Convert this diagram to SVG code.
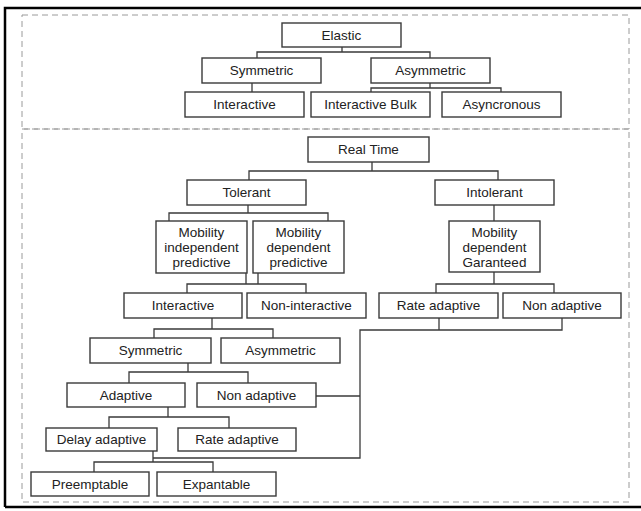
<svg xmlns="http://www.w3.org/2000/svg" width="641" height="511" viewBox="0 0 641 511">
<style>
.n rect{fill:#fff;stroke:#3a3a3a;stroke-width:1.4}
.n text{font-family:"Liberation Sans",Arial,sans-serif;font-size:13.5px;fill:#222;text-anchor:middle}
.c path{fill:none;stroke:#3a3a3a;stroke-width:1.3}
.d{fill:none;stroke:#9a9a9a;stroke-width:1;stroke-dasharray:6,4}
</style>
<rect width="641" height="511" fill="#fff"/>
<path d="M5,507 V8 H641 M5,507 H641" fill="none" stroke="#000" stroke-width="2.5"/>
<rect class="d" x="22" y="15" width="607" height="114"/>
<rect class="d" x="22" y="129" width="607" height="373"/>
<g class="c" id="connectors">
<path d="M342,47 V52 M257,58 V52 H430 V58"/>
<path d="M252,83 V92"/>
<path d="M430,83 V88 M371,92 V88 H501 V92"/>
<path d="M372,162 V171 M249,180 V171 H498 V180"/>
<path d="M248,205 V213 M169,221 V213 H328 V221"/>
<path d="M494,205 V221"/>
<path d="M246,273 V284 M258,273 V284 M187,293 V284 H306 V293"/>
<path d="M494,272 V284 M436,293 V284 H554 V293"/>
<path d="M439,318 V330 M562,318 V330 H360 V458 H153"/>
<path d="M316,396 H360"/>
<path d="M212,318 V329 M154,338 V329 H273 V338"/>
<path d="M188,363 V372 M129,383 V372 H248 V383"/>
<path d="M168,407 V417 M109,428 V417 H229 V428"/>
<path d="M153,451 V462 M94,472 V462 H213 V472"/>
</g>
<g class="n" id="elastic"><rect x="282" y="23" width="119" height="24"/><text x="341.5" y="39.5">Elastic</text></g>
<g class="n" id="symmetric1"><rect x="202" y="58" width="119" height="25"/><text x="261.5" y="75">Symmetric</text></g>
<g class="n" id="asymmetric1"><rect x="371" y="58" width="119" height="25"/><text x="430.5" y="75">Asymmetric</text></g>
<g class="n" id="interactive1"><rect x="185" y="92" width="119" height="25"/><text x="244.5" y="109">Interactive</text></g>
<g class="n" id="interactive-bulk"><rect x="311" y="92" width="119" height="25"/><text x="370.5" y="109">Interactive Bulk</text></g>
<g class="n" id="asyncronous"><rect x="442" y="92" width="119" height="25"/><text x="501.5" y="109">Asyncronous</text></g>
<g class="n" id="real-time"><rect x="308" y="137" width="121" height="25"/><text x="368.5" y="154">Real Time</text></g>
<g class="n" id="tolerant"><rect x="187" y="180" width="119" height="25"/><text x="246.5" y="197">Tolerant</text></g>
<g class="n" id="intolerant"><rect x="435" y="180" width="119" height="25"/><text x="494.5" y="197">Intolerant</text></g>
<g class="n" id="mob-indep"><rect x="156" y="221" width="91" height="52"/><text x="201.5" y="236.5">Mobility</text><text x="201.5" y="251.5">independent</text><text x="201.5" y="266.5">predictive</text></g>
<g class="n" id="mob-dep"><rect x="253" y="221" width="91" height="52"/><text x="298.5" y="236.5">Mobility</text><text x="298.5" y="251.5">dependent</text><text x="298.5" y="266.5">predictive</text></g>
<g class="n" id="mob-dep-gar"><rect x="449" y="221" width="91" height="51"/><text x="494.5" y="236.5">Mobility</text><text x="494.5" y="251.5">dependent</text><text x="494.5" y="266.5">Garanteed</text></g>
<g class="n" id="interactive2"><rect x="124" y="293" width="118" height="25"/><text x="183" y="310">Interactive</text></g>
<g class="n" id="non-interactive"><rect x="247" y="293" width="119" height="25"/><text x="306.5" y="310">Non-interactive</text></g>
<g class="n" id="rate-adaptive1"><rect x="379" y="293" width="119" height="25"/><text x="438.5" y="310">Rate adaptive</text></g>
<g class="n" id="non-adaptive1"><rect x="503" y="293" width="118" height="25"/><text x="562" y="310">Non adaptive</text></g>
<g class="n" id="symmetric2"><rect x="90" y="338" width="121" height="25"/><text x="150.5" y="355">Symmetric</text></g>
<g class="n" id="asymmetric2"><rect x="221" y="338" width="119" height="25"/><text x="280.5" y="355">Asymmetric</text></g>
<g class="n" id="adaptive"><rect x="67" y="383" width="118" height="24"/><text x="126" y="399.5">Adaptive</text></g>
<g class="n" id="non-adaptive2"><rect x="197" y="383" width="119" height="24"/><text x="256.5" y="399.5">Non adaptive</text></g>
<g class="n" id="delay-adaptive"><rect x="46" y="428" width="111" height="23"/><text x="101.5" y="444">Delay adaptive</text></g>
<g class="n" id="rate-adaptive2"><rect x="178" y="428" width="118" height="23"/><text x="237" y="444">Rate adaptive</text></g>
<g class="n" id="preemptable"><rect x="31" y="472" width="118" height="24"/><text x="90" y="488.5">Preemptable</text></g>
<g class="n" id="expantable"><rect x="157" y="472" width="119" height="24"/><text x="216.5" y="488.5">Expantable</text></g>
</svg>
